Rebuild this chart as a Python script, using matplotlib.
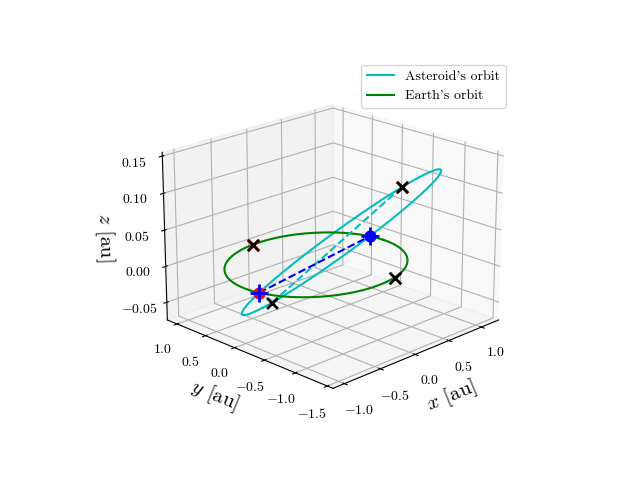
import numpy as np
import matplotlib
matplotlib.use("Agg")
import matplotlib.pyplot as plt

plt.rcParams["font.family"] = "serif"
plt.rcParams["font.serif"] = ["cmr10"]
plt.rcParams["mathtext.fontset"] = "cm"
plt.rcParams["axes.formatter.use_mathtext"] = True
plt.rcParams["axes.unicode_minus"] = True

# orbital elements (au, degrees)
p_ast = 1.0
e_ast = 0.3
inc_ast = 6.0
node_ast = 192.0
peri_ast = -90.0

# true anomalies of the marked asteroid positions (deg)
ast_marks_nu = [166.0, -12.0]

earth_r = 1.0
earth_red_deg = [95.0]
earth_black_deg = [-74.0]


def orbit_xyz(nu, p, e, inc, node, peri):
    r = p / (1 + e * np.cos(nu))
    u = nu + np.radians(peri)
    O = np.radians(node)
    i = np.radians(inc)
    x = r * (np.cos(O) * np.cos(u) - np.sin(O) * np.sin(u) * np.cos(i))
    y = r * (np.sin(O) * np.cos(u) + np.cos(O) * np.sin(u) * np.cos(i))
    z = r * np.sin(u) * np.sin(i)
    return x, y, z


nu = np.linspace(0, 2 * np.pi, 400)
ax_x, ax_y, ax_z = orbit_xyz(nu, p_ast, e_ast, inc_ast, node_ast, peri_ast)
th = np.linspace(0, 2 * np.pi, 400)
ex, ey, ez = earth_r * np.cos(th), earth_r * np.sin(th), 0 * th

fig = plt.figure(figsize=(6.4, 4.8), dpi=100)
ax = fig.add_subplot(projection="3d")
ax.view_init(elev=20, azim=225)

ax.plot(ax_x, ax_y, ax_z, color="c", label="Asteroid's orbit")
ax.plot(ex, ey, ez, color="g", label="Earth's orbit")

# marked asteroid positions and line of nodes
aps = orbit_xyz(np.radians(ast_marks_nu), p_ast, e_ast, inc_ast, node_ast, peri_ast)
nodes = orbit_xyz(np.array([-np.radians(peri_ast), np.pi - np.radians(peri_ast)]),
                  p_ast, e_ast, inc_ast, node_ast, peri_ast)
ax.plot(aps[0], aps[1], aps[2], "c--")
ax.plot(nodes[0], nodes[1], nodes[2], "b--")
kw = dict(depthshade=False)
ax.scatter([nodes[0][0]], [nodes[1][0]], [nodes[2][0]], marker="o", s=60, color="r", **kw)
ax.scatter([nodes[0][1]], [nodes[1][1]], [nodes[2][1]], marker="o", s=60, color="b", **kw)
ax.scatter(nodes[0], nodes[1], nodes[2], marker="+", s=160, color="b", linewidths=2, **kw)

ax.scatter([aps[0][0]], [aps[1][0]], [aps[2][0]], marker="x", s=70, color="r", linewidths=2, **kw)
ax.scatter(aps[0], aps[1], aps[2], marker="x", s=60, color="k", linewidths=2, **kw)
er = np.radians(earth_red_deg)
ax.scatter(np.cos(er), np.sin(er), 0 * er, marker="x", s=70, color="r", linewidths=2, **kw)
ax.scatter(np.cos(er), np.sin(er), 0 * er, marker="x", s=60, color="k", linewidths=2, **kw)
eb = np.radians(earth_black_deg)
ax.scatter(np.cos(eb), np.sin(eb), 0 * eb, marker="x", s=70, color="k", linewidths=2, **kw)

ax.set_xticks([-1.0, -0.5, 0.0, 0.5, 1.0])
ax.set_yticks([-1.5, -1.0, -0.5, 0.0, 0.5, 1.0])
ax.set_zticks([-0.05, 0.0, 0.05, 0.10, 0.15])
ax.set_zlim(-0.075, 0.155)
ax.set_xlabel(r"$x$ [au]", fontsize=15)
ax.set_ylabel(r"$y$ [au]", fontsize=15)
ax.set_zlabel(r"$z$ [au]", fontsize=15)
ax.legend(loc="upper right")

fig.savefig("out.png")
